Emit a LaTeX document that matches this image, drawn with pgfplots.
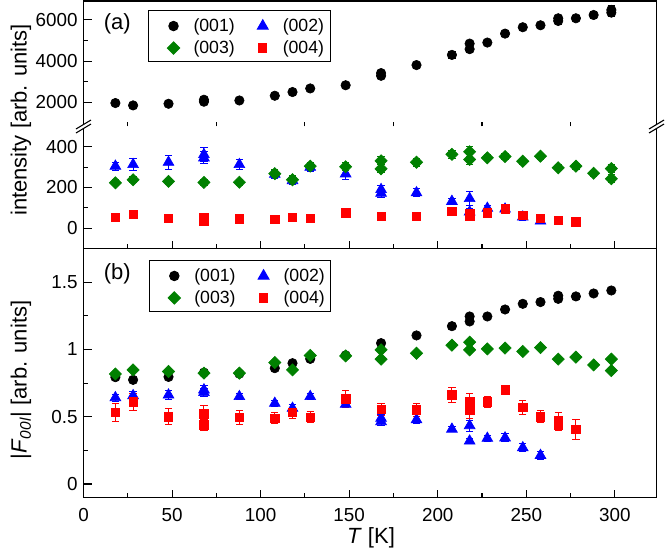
\documentclass[border=0pt]{standalone}
\usepackage{pgfplots}
\pgfplotsset{compat=1.18}
\usepackage{pgfplotstable}
\usepackage{fontspec}
\setmainfont{Liberation Sans}

\newlength\px
\setlength\px{0.6pt}
\newcommand\tickfont{\fontsize{11.3}{13}\selectfont}
\newcommand\legfont{\fontsize{10.6}{12}\selectfont}
\newcommand\labfont{\fontsize{13.2}{15}\selectfont}

\definecolor{cgreen}{RGB}{0,128,0}
\definecolor{cblue}{RGB}{0,0,255}
\definecolor{cred}{RGB}{255,0,0}

% ---------- panel (a): integrated intensity ----------
\pgfplotstableread{
T   I     e
18  1960  80
28  1845  80
48  1925  80
68  2120  100
68  2025  100
88  2085  90
108 2315  100
118 2495  100
128 2670  100
148 2825  100
168 3415  150
168 3285  150
188 3805  150
208 4300  150
218 4850  150
218 4580  150
228 4900  120
238 5335  120
248 5645  120
258 5740  120
268 6080  150
268 5950  150
278 6080  120
288 6240  150
298 6485  200
298 6355  200
}\intA

\pgfplotstableread{
T   I    e
18  305  20
28  313  30
48  324  35
68  362  35
68  346  30
88  313  25
108 265  20
118 234  20
128 300  20
148 267  25
168 190  20
168 172  20
188 174  20
208 132  15
218 146  35
218 80   15
228 98   15
238 94   15
248 55   15
258 35   10
}\intB

\pgfplotstableread{
T   I    e
18  223  15
28  238  15
48  230  15
68  225  15
88  226  15
108 268  20
118 238  20
128 305  20
148 302  20
168 331  20
168 292  20
188 324  20
208 363  20
218 376  25
218 338  25
228 346  15
238 352  15
248 329  15
258 354  15
268 297  15
278 305  15
288 270  15
298 293  20
298 243  20
}\intC

\pgfplotstableread{
T   I   e
18  53  10
28  69  10
48  48  10
68  54  10
68  34  10
88  46  10
108 43  8
118 53  8
128 48  8
148 76  10
168 59  10
188 59  10
208 84  10
218 72  10
218 59  10
228 75  10
238 95  10
248 62  10
258 48  8
268 40  8
278 32  8
}\intD

% ---------- panel (b): |F_00l| ----------
\pgfplotstableread{
T   F      e
18  0.794  0.015
28  0.774  0.015
48  0.796  0.015
68  0.828  0.015
88  0.820  0.015
108 0.861  0.015
118 0.898  0.015
128 0.930  0.015
148 0.956  0.015
168 1.047  0.020
188 1.104  0.020
208 1.173  0.020
218 1.245  0.020
218 1.208  0.020
228 1.245  0.020
238 1.297  0.020
248 1.339  0.020
258 1.352  0.020
268 1.399  0.020
268 1.376  0.020
278 1.394  0.020
288 1.416  0.020
298 1.438  0.020
}\strA

\pgfplotstableread{
T   F      e
18  0.642  0.025
28  0.657  0.030
48  0.662  0.030
68  0.700  0.030
68  0.680  0.030
88  0.650  0.025
108 0.600  0.020
118 0.563  0.025
128 0.650  0.020
148 0.593  0.025
168 0.489  0.025
168 0.464  0.025
188 0.478  0.025
208 0.408  0.020
218 0.434  0.040
218 0.320  0.020
228 0.340  0.020
238 0.343  0.030
248 0.270  0.030
258 0.213  0.030
}\strB

\pgfplotstableread{
T   F      e
18  0.818  0.015
28  0.848  0.015
48  0.836  0.015
68  0.824  0.015
88  0.824  0.015
108 0.903  0.015
118 0.848  0.015
128 0.955  0.015
148 0.952  0.015
168 0.997  0.015
168 0.928  0.015
188 0.972  0.015
208 1.032  0.015
218 1.054  0.020
218 0.997  0.020
228 1.004  0.015
238 1.010  0.015
248 0.985  0.015
258 1.014  0.015
268 0.928  0.015
278 0.943  0.015
288 0.885  0.015
298 0.928  0.015
298 0.843  0.015
}\strC

\pgfplotstableread{
T   F      e
18  0.531  0.065
28  0.610  0.060
48  0.500  0.060
68  0.521  0.060
68  0.439  0.040
88  0.494  0.050
108 0.489  0.040
118 0.531  0.040
128 0.496  0.040
148 0.632  0.065
168 0.556  0.045
188 0.551  0.050
208 0.662  0.055
218 0.610  0.060
218 0.551  0.060
228 0.612  0.040
238 0.700  0.035
248 0.568  0.050
258 0.500  0.045
268 0.470  0.060
268 0.440  0.040
278 0.407  0.075
}\strD

\pgfplotsset{
  m001/.style={only marks, black, mark=*, mark size=4.7\px},
  m002/.style={only marks, cblue, mark=triangle*, mark size=6.2\px},
  m003/.style={only marks, cgreen, mark=square*, mark size=4.3\px, mark options={rotate=45}},
  m004/.style={only marks, cred, mark=square*, mark size=4.2\px},
  ebar/.style={error bars/.cd, y dir=both, y explicit,
    error bar style={line width=0.9\px},
    error mark options={rotate=90, mark size=3.6\px, line width=0.9\px}},
  panel/.style={
    scale only axis, width=573\px, xmin=0, xmax=323.5,
    axis line style={draw=none},
    tick align=inside, tick pos=left,
    major tick length=8\px, minor tick length=4.5\px,
    every tick/.style={black, line width=1.1\px},
    ticklabel style={font=\tickfont},
    xticklabel style={yshift=-5\px},
    /pgf/number format/assume math mode=true,
    /pgf/number format/1000 sep={},
    scaled ticks=false,
    xtick={0,50,...,300}, minor xtick={25,75,...,275},
    legend cell align=left,
    legend columns=2,
    legend image code/.code={%
      \path[draw=none, fill=none] (-19\px,-10\px) rectangle (20\px,12\px);
      \draw[##1] plot coordinates {(0,0)};},
    legend style={draw=black, line width=1\px, fill=white,
      inner xsep=6\px, inner ysep=3.5\px,
      nodes={inner sep=0pt, font=\legfont, anchor=west},
      column sep=0pt, row sep=0pt,
      /tikz/every even column/.append style={column sep=9\px}},
  },
}

\begin{document}
\begin{tikzpicture}
\path[use as bounding box] (0,0) rectangle (666\px,-554\px);

% panel (a), upper part of the broken axis
\begin{axis}[panel, name=up, at={(83.5\px,-1\px)}, anchor=north west,
  height=125.5\px, ymin=820, ymax=6920,
  ytick={2000,4000,6000}, minor ytick={3000,5000},
  xmajorticks=false, xminorticks=false,
  legend style={at={(0.1126,0.928)}, anchor=north west}]
\addplot[m001, ebar] table[x=T, y=I, y error=e] {\intA};
\addlegendimage{m002}
\addlegendimage{m003}
\addlegendimage{m004}
\legend{(001),(002),(003),(004)}
\end{axis}

% panel (a), lower part of the broken axis
\begin{axis}[panel, name=lo, at={(83.5\px,-248.5\px)}, anchor=south west,
  height=122\px, ymin=-100, ymax=500,
  ytick={0,200,400}, minor ytick={100,300},
  xticklabels={}]
\addplot[m002, ebar] table[x=T, y=I, y error=e] {\intB};
\addplot[m003, ebar] table[x=T, y=I, y error=e] {\intC};
\addplot[m004, ebar] table[x=T, y=I, y error=e] {\intD};
\end{axis}

% panel (b)
\begin{axis}[panel, name=pb, at={(83.5\px,-497.5\px)}, anchor=south west,
  height=249\px, ymin=-0.1, ymax=1.75,
  ytick={0,0.5,1,1.5}, minor ytick={0.25,0.75,1.25},
  legend style={at={(0.114,0.954)}, anchor=north west}]
\addplot[m001, ebar] table[x=T, y=F, y error=e] {\strA};
\addplot[m002, ebar] table[x=T, y=F, y error=e] {\strB};
\addplot[m003, ebar] table[x=T, y=F, y error=e] {\strC};
\addplot[m004, ebar] table[x=T, y=F, y error=e] {\strD};
\legend{(001),(002),(003),(004)}
\end{axis}

% frames
\draw[line width=1.3\px] (up.north west) rectangle (lo.south east);
\draw[line width=1.3\px] (pb.north west) rectangle (pb.south east);

% axis-break marks
\foreach \c in {lo.north west, lo.north east} {
  \begin{scope}[shift={(\c)}]
    \fill[white] (-7.5\px,-6.5\px) -- (7.5\px,2.5\px) -- (7.5\px,6.5\px) -- (-7.5\px,-2.5\px) -- cycle;
    \draw[line width=1.1\px] (-7.5\px,-6.5\px) -- (7.5\px,2.5\px)
                             (-7.5\px,-2.5\px) -- (7.5\px,6.5\px);
  \end{scope}
}

% panel tags and axis titles
\node[anchor=west, font=\labfont] at (98\px,-24\px) {(a)};
\node[anchor=west, font=\labfont] at (98\px,-274\px) {(b)};
\node[rotate=90, font=\labfont] at (21\px,-120\px) {intensity [arb. units]};
\node[rotate=90, font=\labfont] at (21\px,-380\px)
  {|\textit{F}\textsubscript{\textit{00l}}| [arb. units]};
\node[font=\labfont] at (371\px,-538\px) {\textit{T} [K]};
\end{tikzpicture}
\end{document}
